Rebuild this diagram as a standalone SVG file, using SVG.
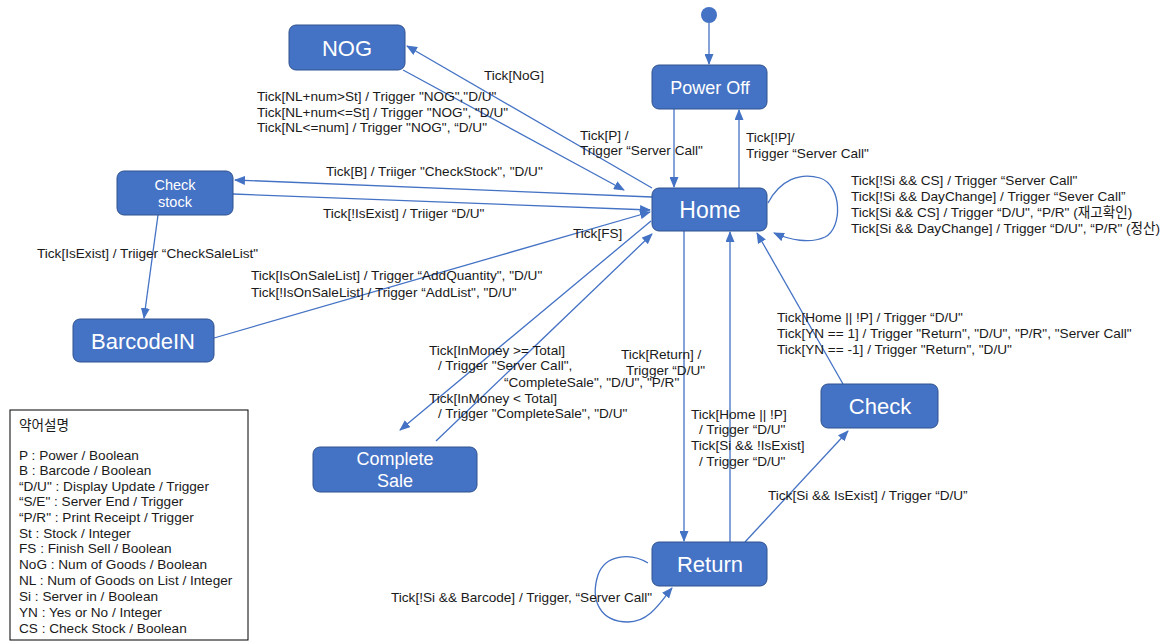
<svg xmlns="http://www.w3.org/2000/svg" width="1174" height="644" viewBox="0 0 1174 644">
<defs>
<style>
.node rect{fill:#4472C4;stroke:#2F528F;stroke-width:1}
.nt{fill:#ffffff;font-family:"Liberation Sans","Noto Sans CJK KR",sans-serif;text-anchor:middle}
.lbl{fill:#1a1a1a;font-family:"Liberation Sans","Noto Sans CJK KR",sans-serif;font-size:13.6px}
.edge{fill:none;stroke:#4472C4;stroke-width:1.3;marker-end:url(#arr)}
</style>
<marker id="arr" markerWidth="11" markerHeight="9" refX="10" refY="4.5" orient="auto" markerUnits="userSpaceOnUse">
<path d="M0,0 L11,4.5 L0,9 z" fill="#4472C4"/>
</marker>
</defs>
<rect width="1174" height="644" fill="#ffffff"/>

<g id="connectors">
<path class="edge" d="M709,23 L709,64"/>
<path class="edge" d="M674,109 L674,187"/>
<path class="edge" d="M739,188 L739,110"/>
<path class="edge" d="M768,203 C780,180 800,172 820,178 C842,185 843,228 825,237 C810,244 790,240 774,233"/>
<path class="edge" d="M652,188 L407,46"/>
<path class="edge" d="M403,70 L624,190"/>
<path class="edge" d="M652,197 L235,180"/>
<path class="edge" d="M233,194 L650,210"/>
<path class="edge" d="M158,215 L144,318"/>
<path class="edge" d="M214,338 L650,212"/>
<path class="edge" d="M651,221 L400,430"/>
<path class="edge" d="M436,441 L652,234"/>
<path class="edge" d="M684,231 L684,541"/>
<path class="edge" d="M730,542 L730,232"/>
<path class="edge" d="M843,384 L757,233"/>
<path class="edge" d="M745,542 L848,431"/>
<path class="edge" d="M648,563 C630,552 605,555 598,575 C590,600 600,622 628,622 C650,622 662,600 672,588"/>
</g>

<g id="start"><circle cx="709" cy="15" r="8" fill="#4472C4"/></g>

<g id="nog" class="node"><rect x="289" y="25" width="116" height="45" rx="7"/><text class="nt" x="347" y="56" font-size="22">NOG</text></g>
<g id="poweroff" class="node"><rect x="652" y="65" width="115" height="44" rx="7"/><text class="nt" x="710" y="93.5" font-size="18">Power Off</text></g>
<g id="home" class="node"><rect x="652" y="188" width="115" height="43" rx="7"/><text class="nt" x="710" y="218" font-size="23">Home</text></g>
<g id="checkstock" class="node"><rect x="117" y="171" width="116" height="44" rx="7"/><text class="nt" x="175" y="190" font-size="14.5">Check</text><text class="nt" x="175" y="207" font-size="14.5">stock</text></g>
<g id="barcodein" class="node"><rect x="73" y="319" width="141" height="43" rx="7"/><text class="nt" x="143" y="349" font-size="22">BarcodeIN</text></g>
<g id="completesale" class="node"><rect x="313" y="447" width="164" height="45" rx="7"/><text class="nt" x="395" y="465" font-size="18">Complete</text><text class="nt" x="395" y="487" font-size="18">Sale</text></g>
<g id="return" class="node"><rect x="652" y="542" width="115" height="44" rx="7"/><text class="nt" x="710" y="572" font-size="22">Return</text></g>
<g id="check" class="node"><rect x="821" y="384" width="117" height="44" rx="7"/><text class="nt" x="880" y="414" font-size="22">Check</text></g>

<g id="labels">
<text class="lbl" x="484" y="80">Tick[NoG]</text>
<text class="lbl" x="257" y="101">Tick[NL+num&gt;St] / Trigger "NOG","D/U"</text>
<text class="lbl" x="257" y="117">Tick[NL+num&lt;=St] / Trigger "NOG", "D/U"</text>
<text class="lbl" x="257" y="132">Tick[NL&lt;=num] / Trigger "NOG", “D/U"</text>
<text class="lbl" x="580" y="140">Tick[P] /</text>
<text class="lbl" x="580" y="155">Trigger “Server Call"</text>
<text class="lbl" x="746" y="142">Tick[!P]/</text>
<text class="lbl" x="746" y="158">Trigger “Server Call"</text>
<text class="lbl" x="851" y="185">Tick[!Si &amp;&amp; CS] / Trigger “Server Call"</text>
<text class="lbl" x="851" y="201">Tick[!Si &amp;&amp; DayChange] / Trigger “Sever Call”</text>
<text class="lbl" x="851" y="217">Tick[Si &amp;&amp; CS] / Trigger “D/U", “P/R"  (재고확인)</text>
<text class="lbl" x="851" y="233">Tick[Si &amp;&amp; DayChange] / Trigger “D/U", “P/R"  (정산)</text>
<text class="lbl" x="326" y="176">Tick[B] / Triiger "CheckStock", "D/U"</text>
<text class="lbl" x="323" y="218">Tick[!IsExist] / Triiger “D/U"</text>
<text class="lbl" x="37" y="258">Tick[IsExist] / Triiger “CheckSaleList"</text>
<text class="lbl" x="573" y="238">Tick[FS]</text>
<text class="lbl" x="251" y="280">Tick[IsOnSaleList] / Trigger “AddQuantity", "D/U"</text>
<text class="lbl" x="251" y="297">Tick[!IsOnSaleList] / Trigger “AddList", "D/U"</text>
<text class="lbl" x="429" y="355">Tick[InMoney &gt;= Total]</text>
<text class="lbl" x="438" y="370">/ Trigger "Server Call",</text>
<text class="lbl" x="504" y="387">“CompleteSale", "D/U", "P/R"</text>
<text class="lbl" x="429" y="403">Tick[InMoney &lt; Total]</text>
<text class="lbl" x="438" y="418">/ Trigger "CompleteSale", "D/U"</text>
<text class="lbl" x="621" y="359">Tick[Return] /</text>
<text class="lbl" x="626" y="375">Trigger “D/U"</text>
<text class="lbl" x="777" y="322">Tick[Home || !P] / Trigger “D/U"</text>
<text class="lbl" x="777" y="338">Tick[YN == 1] / Trigger "Return", "D/U", "P/R", "Server Call"</text>
<text class="lbl" x="777" y="354">Tick[YN == -1] / Trigger "Return", "D/U"</text>
<text class="lbl" x="691" y="419">Tick[Home || !P]</text>
<text class="lbl" x="699" y="434">/ Trigger “D/U"</text>
<text class="lbl" x="691" y="450">Tick[Si &amp;&amp; !IsExist]</text>
<text class="lbl" x="699" y="466">/ Trigger “D/U"</text>
<text class="lbl" x="768" y="500">Tick[Si &amp;&amp; IsExist] / Trigger “D/U”</text>
<text class="lbl" x="391" y="602">Tick[!Si &amp;&amp; Barcode] / Trigger, “Server Call"</text>
</g>

<g id="legend">
<rect x="10" y="410" width="238" height="230" fill="#ffffff" stroke="#000000" stroke-width="1"/>
<text class="lbl" x="19" y="430">약어설명</text>
<text class="lbl" x="19" y="460">P : Power / Boolean</text>
<text class="lbl" x="19" y="475">B : Barcode / Boolean</text>
<text class="lbl" x="19" y="491">“D/U" : Display Update / Trigger</text>
<text class="lbl" x="19" y="506">“S/E" : Server End / Trigger</text>
<text class="lbl" x="19" y="522">“P/R" : Print Receipt / Trigger</text>
<text class="lbl" x="19" y="538">St : Stock / Integer</text>
<text class="lbl" x="19" y="553">FS : Finish Sell / Boolean</text>
<text class="lbl" x="19" y="569">NoG : Num of Goods / Boolean</text>
<text class="lbl" x="19" y="585">NL : Num of Goods on List / Integer</text>
<text class="lbl" x="19" y="601">Si : Server in / Boolean</text>
<text class="lbl" x="19" y="617">YN : Yes or No / Integer</text>
<text class="lbl" x="19" y="633">CS : Check Stock / Boolean</text>
</g>
</svg>
